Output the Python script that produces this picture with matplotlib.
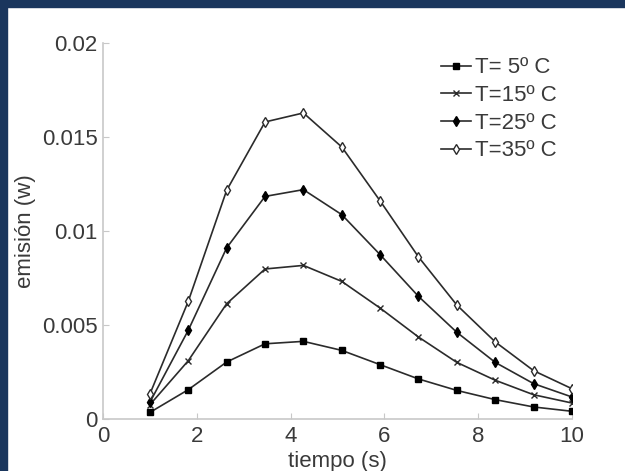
import matplotlib
matplotlib.use('Agg')
import matplotlib.pyplot as plt
from matplotlib.patches import Rectangle

# Data
tiempo = [1.0, 1.818, 2.636, 3.455, 4.273, 5.091, 5.909, 6.727, 7.545, 8.364, 9.182, 10.0]
t05 = [0.00035, 0.00156, 0.00303, 0.0040, 0.00413, 0.00365, 0.00289, 0.00213, 0.00152, 0.00103, 0.00064, 0.00041]
t15 = [0.00076, 0.0031, 0.00613, 0.00798, 0.00817, 0.00732, 0.0059, 0.00436, 0.00301, 0.00206, 0.00129, 0.00085]
t25 = [0.00089, 0.00472, 0.0091, 0.01184, 0.0122, 0.01087, 0.00874, 0.00652, 0.00461, 0.00301, 0.00188, 0.00117]
t35 = [0.00133, 0.00626, 0.01216, 0.0158, 0.01628, 0.01447, 0.0116, 0.00862, 0.00606, 0.0041, 0.00257, 0.00161]
labels = ['T= 5º C', 'T=15º C', 'T=25º C', 'T=35º C']
yticks = [0, 0.005, 0.01, 0.015, 0.02]
ytick_labels = ['0', '0.005', '0.01', '0.015', '0.02']

plt.rcParams['font.family'] = ['Liberation Sans', 'DejaVu Sans']

fig = plt.figure(figsize=(6.25, 4.71), dpi=100)
fig.patch.set_facecolor('white')
# navy frame on top and left edges
fig.patches.append(Rectangle((0, 1 - 7 / 471), 1, 7 / 471, transform=fig.transFigure,
                             color='#1a365d', zorder=0))
fig.patches.append(Rectangle((0, 0), 7 / 625, 1, transform=fig.transFigure,
                             color='#1a365d', zorder=0))

ax = fig.add_axes([0.1648, 0.1104, 0.7504, 0.7983])
lc = '#2b2b2b'
ax.plot(tiempo, t05, '-s', color=lc, lw=1.2, ms=5, mfc='black', mec='black', label=labels[0])
ax.plot(tiempo, t15, '-x', color=lc, lw=1.2, ms=5, mec=lc, label=labels[1])
ax.plot(tiempo, t25, '-d', color=lc, lw=1.2, ms=5.5, mfc='black', mec='black', label=labels[2])
ax.plot(tiempo, t35, '-d', color=lc, lw=1.2, ms=5.5, mfc='white', mec=lc, label=labels[3])

ax.set_xlim(0, 10)
ax.set_ylim(0, 0.02)
ax.set_xticks([0, 2, 4, 6, 8, 10])
ax.set_yticks(yticks)
ax.set_yticklabels(ytick_labels)
for s in ['top', 'right']:
    ax.spines[s].set_visible(False)
for s in ['left', 'bottom']:
    ax.spines[s].set_color('#c8c8c8')
    ax.spines[s].set_linewidth(1.2)
ax.tick_params(direction='in', length=4, color='#c8c8c8', labelsize=16,
               labelcolor='#3a3a3a')
ax.tick_params(axis='x', pad=5)
ax.tick_params(axis='y', pad=4)

ax.set_xlabel('tiempo (s)', fontsize=16, color='#3a3a3a', labelpad=3)
ax.set_ylabel('emisión (w)', fontsize=16, color='#3a3a3a', labelpad=4)

ax.legend(loc='upper left', bbox_to_anchor=(0.72, 0.962), frameon=False, fontsize=16,
          handlelength=1.35, handletextpad=0.2, labelspacing=0.3, borderpad=0,
          borderaxespad=0, labelcolor='#3a3a3a')

plt.savefig('out.png', dpi=100)
